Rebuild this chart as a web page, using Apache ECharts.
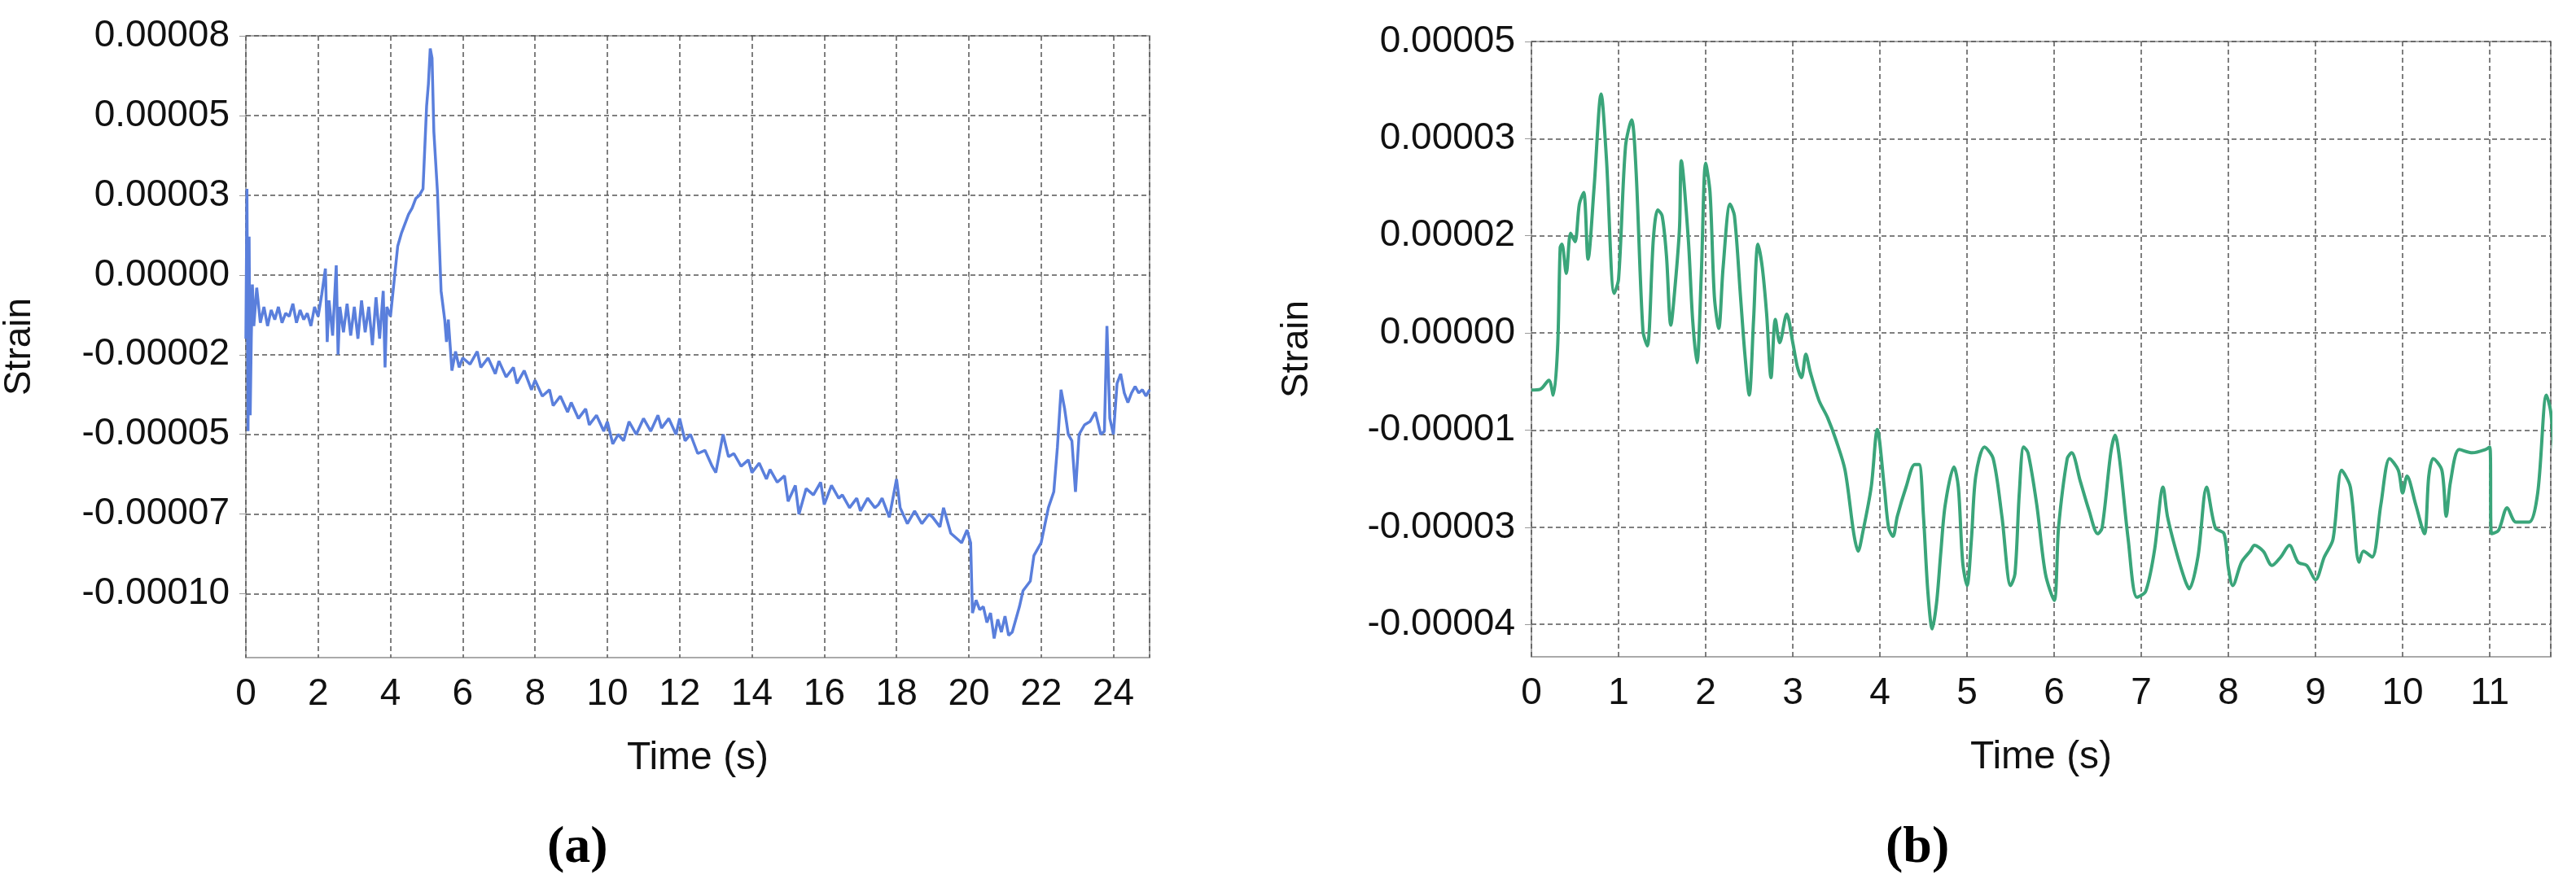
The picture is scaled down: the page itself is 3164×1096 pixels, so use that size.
<!DOCTYPE html>
<html><head><meta charset="utf-8">
<script src="https://cdn.jsdelivr.net/npm/echarts@6/dist/echarts.min.js"></script>
<style>html,body{margin:0;padding:0;background:#fff}#c{width:3164px;height:1096px}</style>
</head><body><div id="c"></div>
<script>
// Strain values in units of 1e-5
const timeA = [0,0.03,0.06,0.09,0.12,0.15,0.18,0.22,0.3,0.4,0.5,0.6,0.7,0.8,0.9,1.0,1.1,1.2,1.3,1.4,1.5,1.6,1.7,1.8,1.9,2.0,2.1,2.2,2.25,2.3,2.4,2.5,2.55,2.6,2.7,2.8,2.9,3.0,3.1,3.2,3.3,3.4,3.5,3.6,3.7,3.8,3.85,3.9,4.0,4.1,4.2,4.3,4.4,4.5,4.6,4.7,4.8,4.9,5.0,5.05,5.1,5.15,5.2,5.3,5.4,5.5,5.55,5.6,5.7,5.8,5.9,6.0,6.2,6.4,6.5,6.7,6.9,7.0,7.2,7.4,7.5,7.7,7.9,8.0,8.2,8.4,8.5,8.7,8.9,9.0,9.2,9.4,9.5,9.7,9.9,10.0,10.15,10.3,10.45,10.6,10.8,11.0,11.2,11.4,11.5,11.7,11.9,12.0,12.15,12.3,12.5,12.7,12.9,13.0,13.1,13.2,13.35,13.5,13.7,13.9,14.0,14.2,14.4,14.5,14.7,14.9,15.0,15.2,15.3,15.5,15.7,15.9,16.0,16.2,16.4,16.5,16.7,16.9,17.0,17.2,17.4,17.5,17.6,17.8,17.9,18.0,18.1,18.3,18.5,18.7,18.9,19.0,19.2,19.3,19.5,19.7,19.8,19.95,20.05,20.1,20.2,20.3,20.4,20.5,20.6,20.7,20.8,20.9,21.0,21.1,21.2,21.4,21.5,21.7,21.8,22.0,22.2,22.35,22.45,22.55,22.65,22.75,22.85,22.95,23.05,23.2,23.35,23.5,23.65,23.75,23.82,23.9,24.0,24.1,24.2,24.3,24.4,24.5,24.6,24.7,24.8,24.9,25.0];
const strainA = [-2,2.7,-4.9,1.2,-4.4,-2.0,-0.3,-1.6,-0.4,-1.5,-1.0,-1.6,-1.1,-1.4,-1.0,-1.5,-1.2,-1.3,-0.9,-1.5,-1.1,-1.4,-1.2,-1.6,-1.0,-1.3,-0.6,0.2,-2.1,-0.8,-1.9,0.3,-2.5,-1.0,-1.8,-0.9,-1.9,-1.0,-2.0,-0.8,-1.8,-1.0,-2.2,-0.7,-2.0,-0.5,-2.9,-1.0,-1.3,-0.2,0.9,1.3,1.6,1.9,2.1,2.4,2.5,2.7,5.3,6.0,7.1,6.8,4.5,2.6,-0.5,-1.4,-2.1,-1.4,-3.0,-2.4,-2.9,-2.6,-2.8,-2.4,-2.9,-2.6,-3.1,-2.7,-3.2,-2.9,-3.4,-3.0,-3.6,-3.3,-3.8,-3.6,-4.1,-3.8,-4.3,-4.0,-4.5,-4.2,-4.7,-4.4,-4.9,-4.6,-5.3,-5.0,-5.2,-4.6,-5.0,-4.5,-4.9,-4.4,-4.8,-4.5,-5.0,-4.5,-5.2,-5.0,-5.6,-5.5,-6.0,-6.2,-5.6,-5.0,-5.7,-5.6,-6.0,-5.8,-6.2,-5.9,-6.4,-6.1,-6.5,-6.3,-7.1,-6.6,-7.5,-6.7,-6.9,-6.5,-7.2,-6.6,-7.0,-6.9,-7.3,-7.0,-7.4,-7.0,-7.3,-7.2,-7.0,-7.6,-7.0,-6.4,-7.3,-7.8,-7.4,-7.8,-7.5,-7.6,-7.9,-7.3,-8.1,-8.3,-8.4,-8.0,-8.4,-10.6,-10.2,-10.5,-10.4,-10.9,-10.6,-11.4,-10.8,-11.2,-10.7,-11.3,-11.2,-10.4,-9.9,-9.6,-8.8,-8.4,-7.3,-6.8,-5.4,-3.6,-4.2,-5.0,-5.2,-6.8,-5.0,-4.7,-4.6,-4.3,-5.0,-4.9,-1.6,-4.5,-5.0,-3.4,-3.1,-3.7,-4.0,-3.7,-3.5,-3.7,-3.6,-3.8,-3.6];
const ticksA = [7.5,5,2.5,0,-2.5,-5,-7.5,-10];
const tickLabelsA = ['0.00008','0.00005','0.00003','0.00000','-0.00002','-0.00005','-0.00007','-0.00010'];

const timeB = [0,0.1,0.2,0.25,0.3,0.33,0.35,0.4,0.45,0.5,0.55,0.6,0.65,0.72,0.8,0.86,0.95,1.0,1.08,1.15,1.2,1.28,1.33,1.4,1.45,1.5,1.55,1.6,1.65,1.7,1.72,1.8,1.85,1.9,1.95,2.0,2.05,2.1,2.15,2.2,2.28,2.33,2.4,2.45,2.5,2.55,2.6,2.65,2.7,2.75,2.8,2.85,2.93,3.0,3.05,3.1,3.15,3.2,3.3,3.4,3.5,3.6,3.7,3.75,3.8,3.9,3.97,4.05,4.1,4.15,4.2,4.3,4.4,4.45,4.5,4.55,4.6,4.65,4.7,4.75,4.85,4.9,4.95,5.0,5.05,5.1,5.2,5.3,5.4,5.5,5.55,5.6,5.65,5.7,5.8,5.9,6.0,6.05,6.15,6.2,6.3,6.4,6.5,6.55,6.65,6.7,6.75,6.85,6.95,7.05,7.15,7.25,7.3,7.4,7.5,7.55,7.65,7.75,7.85,7.95,8.0,8.05,8.15,8.25,8.3,8.4,8.5,8.6,8.7,8.8,8.9,9.0,9.1,9.2,9.3,9.4,9.5,9.55,9.65,9.75,9.85,9.95,10.0,10.05,10.15,10.25,10.3,10.35,10.45,10.5,10.55,10.65,10.8,10.95,11.0,11.02,11.1,11.2,11.3,11.45,11.55,11.65,11.7,11.75];
const strainB = [-0.38,-0.37,-0.23,-0.46,0.26,1.82,1.87,1.42,2.04,1.91,2.49,2.67,1.64,2.76,4.19,3.21,1.11,1.33,3.38,3.79,3.03,0.53,0.30,1.96,2.40,2.31,1.69,0.62,1.24,2.13,3.16,1.96,0.71,0.04,1.42,3.12,2.67,1.06,0.57,1.51,2.49,2.31,1.06,0.17,-0.46,0.71,1.87,1.51,0.79,-0.19,0.71,0.35,0.79,0.35,-0.01,-0.19,0.17,-0.10,-0.54,-0.81,-1.17,-1.62,-2.60,-2.87,-2.60,-1.88,-0.99,-1.88,-2.51,-2.64,-2.33,-1.88,-1.53,-1.53,-2.33,-3.49,-4.07,-3.67,-2.87,-2.15,-1.57,-1.88,-3.04,-3.40,-2.69,-1.71,-1.26,-1.44,-2.33,-3.40,-3.22,-1.97,-1.26,-1.35,-2.15,-3.22,-3.63,-2.51,-1.44,-1.35,-1.79,-2.24,-2.60,-2.51,-1.35,-1.08,-1.44,-2.69,-3.58,-3.49,-2.87,-1.88,-2.33,-2.87,-3.31,-3.45,-2.96,-1.88,-2.51,-2.60,-3.13,-3.40,-3.04,-2.87,-2.78,-2.87,-3.09,-2.96,-2.78,-3.04,-3.09,-3.31,-2.96,-2.69,-1.62,-1.88,-3.04,-2.87,-2.96,-2.15,-1.44,-1.62,-1.97,-1.71,-2.15,-2.60,-1.71,-1.44,-1.62,-2.33,-1.79,-1.30,-1.35,-1.30,-1.26,-2.60,-2.55,-2.20,-2.42,-2.42,-1.97,-0.46,-0.72,-1.62];
const ticksB = [5,3.5,2,0.5,-1,-2.5,-4];
const tickLabelsB = ['0.00005','0.00003','0.00002','0.00000','-0.00001','-0.00003','-0.00004'];

const zip = (t, v) => t.map((x, i) => [x, v[i]]);
const FF = '"Liberation Sans", Arial, sans-serif';
const lblFont = {fontFamily:FF, fontSize:46, color:'#111'};
function yAxis(gi, min, max, ticks, labels) {
  return {type:'value', gridIndex:gi, min, max,
    axisLine:{show:false},
    axisTick:{show:true, customValues:ticks, length:8, lineStyle:{color:'#999'}},
    axisLabel:Object.assign({customValues:ticks, margin:20, formatter:v => {const i = ticks.findIndex(t => Math.abs(t - v) < 1e-6); return i >= 0 ? labels[i] : '';}}, lblFont),
    splitLine:{show:true, lineStyle:{type:[6,4], color:'#555', width:1.5}},
    name:'Strain', nameLocation:'middle', nameRotate:90,
    nameTextStyle:{fontFamily:FF, fontSize:46, color:'#111'}};
}
function xAxis(gi, max, interval) {
  return {type:'value', gridIndex:gi, min:0, max, interval,
    axisLine:{show:false},
    axisTick:{show:true, length:10, lineStyle:{color:'#999'}},
    axisLabel:Object.assign({margin:22, showMaxLabel:false}, lblFont),
    splitLine:{show:true, lineStyle:{type:[6,4], color:'#555', width:1.5}},
    name:'Time (s)', nameLocation:'middle', nameGap:100,
    nameTextStyle:{fontFamily:FF, fontSize:48, color:'#111'}};
}
const chart = echarts.init(document.getElementById('c'));
chart.setOption({
  animation:false,
  grid:[
    {left:300, top:44, width:1112, height:764, show:true, borderColor:'#aaa', borderWidth:2},
    {left:1881, top:51, width:1252, height:756, show:true, borderColor:'#aaa', borderWidth:2}
  ],
  xAxis:[xAxis(0, 25, 2), xAxis(1, 11.7, 1)],
  yAxis:[Object.assign(yAxis(0, -12, 7.5, ticksA, tickLabelsA), {nameGap:255}),
         Object.assign(yAxis(1, -4.5, 5, ticksB, tickLabelsB), {nameGap:265})],
  graphic:[
    {type:'text', left:672, top:1010, style:{text:'(a)', font:'bold 64px "Liberation Serif"', fill:'#000'}},
    {type:'text', left:2316, top:1010, style:{text:'(b)', font:'bold 64px "Liberation Serif"', fill:'#000'}}
  ],
  series:[
    {type:'line', xAxisIndex:0, yAxisIndex:0, data:zip(timeA, strainA), showSymbol:false, lineStyle:{color:'#5a7fdc', width:3.5}},
    {type:'line', xAxisIndex:1, yAxisIndex:1, data:zip(timeB, strainB), showSymbol:false, smooth:0.3, lineStyle:{color:'#3aa57a', width:4}}
  ]
});
</script></body></html>
